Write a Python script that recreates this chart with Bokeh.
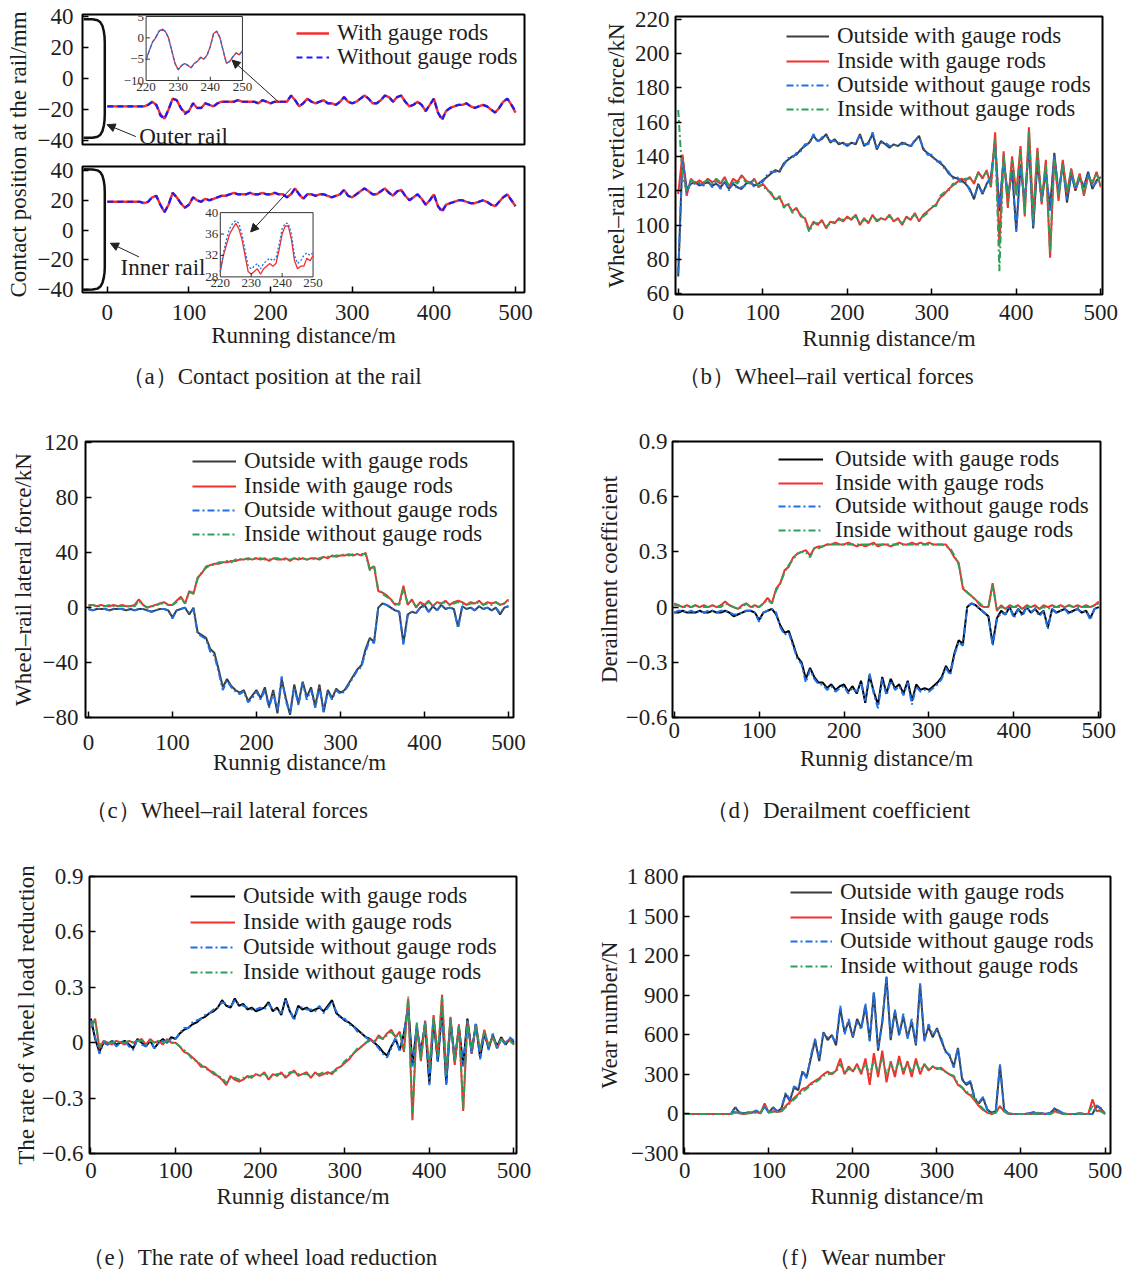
from math import pi
from bokeh.plotting import figure
from bokeh.layouts import row, column
from bokeh.models import (Range1d, FixedTicker, Legend, LegendItem, Label, Arrow,
                          NormalHead)
from bokeh.core.properties import value
from bokeh.embed import file_html
from bokeh.resources import INLINE

FONT = "Liberation Serif"
TXT = "#1e1e1e"
RED = "#f2302c"
BLUE = "#1f6fe5"
GREEN = "#2e9f5b"
DARK = "#3c3c3c"
DD = "7 3 2 3"

# ---------------- data ----------------
dist = list(range(0, 501, 5))
inset_dist = list(range(220, 251))

# (a) contact position, outer rail
a_outer_with = [-18,-18,-18,-18,-18,-18,-18,-18,-18,-18,
                -17,-15,-17,-23,-26,-20,-13,-14,-19,-22,
                -21,-16,-19,-19,-16,-17,-18,-16,-15,-15,
                -15,-15,-14,-15,-15,-15,-15,-16,-14,-15,
                -16,-15,-15,-15,-15,-11,-14,-18,-16,-13,
                -15,-16,-15,-14,-16,-16,-17,-15,-12,-15,
                -16,-15,-13,-11,-13,-16,-16,-14,-11,-12,
                -15,-12,-11,-15,-18,-17,-15,-17,-21,-17,
                -13,-22,-26,-21,-19,-18,-17,-17,-16,-18,
                -19,-18,-17,-18,-20,-22,-19,-15,-13,-17,
                -22]
a_outer_without = [-18,-18,-18,-18,-18,-18,-18,-18,-18,-18,
                   -17,-15,-17,-24,-26,-20,-13,-14,-19,-23,
                   -21,-16,-19,-19,-16,-17,-18,-16,-15,-15,
                   -15,-15,-14,-15,-15,-15,-15,-16,-14,-15,
                   -16,-15,-15,-15,-15,-11,-14,-18,-16,-13,
                   -15,-16,-15,-14,-16,-16,-17,-15,-12,-15,
                   -16,-15,-13,-11,-13,-16,-16,-14,-11,-12,
                   -15,-12,-11,-15,-18,-17,-15,-17,-21,-17,
                   -13,-22,-27,-21,-19,-18,-17,-17,-16,-18,
                   -19,-18,-17,-18,-20,-22,-19,-15,-13,-17,
                   -21]
# (a) contact position, inner rail
a_inner_with = [19,19,19,19,19,19,19,19,19,18,
                19,22,23,17,12,17,25,22,18,15,
                17,22,20,19,21,20,21,22,23,23,
                24,25,24,24,24,25,24,24,25,24,
                24,25,24,24,22,24,28,24,21,24,
                24,23,24,24,23,22,23,24,27,23,
                22,24,26,28,26,24,24,26,28,25,
                23,26,27,23,20,22,24,21,17,20,
                24,16,13,17,18,19,20,20,19,18,
                18,19,20,19,17,16,19,22,24,20,
                16]
a_inner_without = [19,19,19,19,19,19,19,19,19,18,
                   19,22,23,17,12,17,25,22,18,15,
                   17,22,20,19,21,20,21,22,23,23,
                   24,25,24,24,24,25,24,24,25,24,
                   24,25,24,24,22,24,28,24,21,24,
                   24,23,24,24,23,22,23,24,27,23,
                   22,24,26,28,26,24,24,26,28,25,
                   23,26,27,23,20,22,24,21,17,20,
                   24,16,12,17,18,19,20,20,19,18,
                   18,19,20,19,17,16,19,22,24,20,
                   16]
# (a) insets, 220-250 m
a_outer_inset_with = [-5,-3,-1,0,1.5,2,1.5,0,-3,-6,-7.5,-6.5,-6,-6.5,-7,-6,-5.5,-4.5,-5,-4,
                      -2,1,1.5,0,-3,-6,-5.5,-4.5,-3.5,-4,-3]
a_outer_inset_without = [-5.2,-3,-1,0.2,1.6,2.1,1.5,-0.1,-3.1,-6,-7.4,-6.6,-6,-6.4,-7,-6.1,-5.4,-4.6,-5,-4.1,
                         -2,0.9,1.6,0.1,-3,-5.9,-5.6,-4.4,-3.6,-3.9,-3.2]
a_inner_inset_with = [29,32,34,36,37,38,37,35,32,29,28.5,29,29.5,28.5,29.5,30,30.5,30,30.5,33,
                      36,37.5,37.5,35,31,29.5,30,30,31.5,31,32]
a_inner_inset_without = [29,32.5,35,37,38,38.5,38,36,33,30,29.5,30,30.5,29.5,30.5,31,31.5,31,31.5,34,
                         37,38,38,36,32,30.5,31,32,32.5,32,32.5]
# rail profile sketch (bracket) drawn left of the axis
rail_x = [-29,-18,-12,-8.5,-6,-4.3,-3.4,-3.1,-3.1,-3.4,-4.3,-6,-8.5,-12,-18,-29]
outer_rail_y = [38.3,38.2,37.6,36.3,34,30.5,27,23,-23,-27,-30.5,-34,-36.3,-37.6,-38.2,-38.3]
inner_rail_y = [40.8,40.7,40.1,38.8,36.5,33,29.5,25.5,-25,-28.5,-32,-35.5,-38,-39.4,-40,-40.2]

# (b) wheel-rail vertical force (kN)
b_out_with = [70,140,121,124,125,123,124,125,123,124,
              122,125,121,124,122,121,124,125,123,124,
              126,128,130,132,131,136,138,140,141,144,
              146,148,152,149,150,153,148,150,147,148,
              146,148,147,153,146,148,153,144,149,147,
              145,147,146,148,147,146,149,152,144,142,
              140,138,136,134,130,128,127,126,124,121,
              115,124,118,124,128,148,108,139,116,132,
              97,135,112,148,98,137,115,130,110,142,
              118,136,113,130,120,128,122,131,121,126,
              128]
b_in_with = [118,141,117,127,124,126,124,127,125,126,
             124,128,122,127,125,129,126,124,127,122,
             124,121,118,115,116,111,112,108,110,105,
             104,97,102,100,103,98,102,101,104,102,
             105,103,106,100,104,101,106,102,104,103,
             106,102,104,100,105,103,107,102,106,108,
             110,112,116,118,121,123,125,127,126,128,
             124,131,127,132,122,154,88,143,110,140,
             118,146,105,157,104,145,112,138,81,140,
             114,138,118,133,121,130,117,129,124,131,
             122]
b_out_without = [72,138,119,125,124,124,123,126,122,125,
                 121,126,120,125,121,122,123,126,122,125,
                 125,129,131,131,132,135,139,139,142,143,
                 147,147,153,148,151,152,149,149,148,147,
                 147,147,148,152,147,147,154,145,148,148,
                 146,146,147,147,148,145,150,151,145,141,
                 141,137,137,133,131,127,128,125,125,120,
                 116,123,119,123,129,146,110,137,118,130,
                 96,134,114,146,99,139,113,132,108,140,
                 120,134,115,129,121,127,123,130,122,125,
                 129]
b_in_without = [167,128,120,126,125,125,125,126,124,127,
                125,127,123,126,124,128,125,125,126,123,
                123,120,119,114,117,110,113,107,109,106,
                103,96,101,101,102,99,101,102,103,103,
                104,104,105,101,103,102,105,103,103,104,
                105,103,103,101,104,104,106,103,105,107,
                111,111,117,119,120,124,124,126,127,127,
                125,130,128,131,123,150,73,141,112,138,
                117,144,107,155,103,143,114,136,84,138,
                116,136,119,132,122,129,118,128,125,130,
                123]

# (c) wheel-rail lateral force (kN)
c_out_with = [-1,-2,-1,-1,-1,-2,-1,-1,-1,-2,
              -1,-2,-1,-1,-2,-3,-2,-1,-1,-2,
              -7,-2,-1,0,-5,0,-18,-20,-22,-30,
              -33,-45,-58,-52,-57,-60,-62,-60,-68,-64,
              -60,-66,-58,-72,-60,-77,-52,-66,-78,-56,
              -70,-54,-65,-58,-72,-56,-76,-60,-66,-59,
              -62,-60,-55,-50,-45,-42,-30,-22,-25,0,
              3,2,0,-2,-3,-26,-5,-3,-4,0,
              2,-3,1,-2,2,-1,0,-1,-14,1,
              -1,0,-2,1,-1,0,-2,0,-5,0,
              1]
c_in_with = [2,2,1,2,1,1,2,1,2,1,
             1,2,6,2,0,1,2,3,4,2,
             2,5,8,3,12,10,22,25,30,31,
             32,32,33,33,34,34,35,35,36,35,
             36,35,36,34,36,35,35,36,34,36,
             35,36,35,36,36,35,37,36,38,37,
             38,38,39,38,39,38,40,28,30,12,
             11,9,6,2,3,16,2,6,0,4,
             2,5,1,4,3,5,2,4,5,4,
             2,4,3,5,2,4,3,4,2,3,
             6]
c_out_without = [-1,-2,-1,-1,-1,-2,-1,-1,-1,-2,
                 -1,-2,-1,-1,-2,-3,-2,-1,-1,-2,
                 -8,-2,-1,0,-4,-1,-19,-21,-23,-32,
                 -35,-47,-60,-53,-58,-61,-63,-61,-69,-66,
                 -61,-67,-60,-73,-62,-75,-50,-68,-77,-58,
                 -71,-55,-67,-60,-73,-58,-76,-61,-67,-60,
                 -63,-61,-56,-51,-46,-43,-32,-23,-26,0,
                 3,2,0,-2,-3,-27,-6,-3,-4,0,
                 1,-3,1,-2,2,-1,0,-1,-15,1,
                 -1,0,-2,1,-1,0,-2,0,-4,0,
                 1]
c_in_without = [1,2,1,1,1,2,1,1,1,1,
                1,1,5,2,0,1,1,3,3,2,
                2,4,7,3,11,11,21,26,29,31,
                31,33,33,34,33,35,35,36,35,36,
                36,36,35,35,36,36,35,35,35,36,
                36,36,35,36,35,36,37,37,37,38,
                38,39,38,39,39,39,39,27,31,13,
                10,8,6,3,2,14,3,5,1,3,
                2,4,2,3,3,4,2,3,4,3,
                2,3,3,4,2,3,2,4,2,3,
                5]

# (d) derailment coefficient
d_out_with = [-0.03,-0.03,-0.02,-0.03,-0.03,-0.03,-0.02,-0.03,-0.03,-0.02,
              -0.03,-0.03,-0.02,-0.03,-0.05,-0.04,-0.03,-0.02,-0.02,-0.03,
              -0.07,-0.03,-0.02,-0.01,-0.04,-0.1,-0.14,-0.13,-0.2,-0.27,
              -0.3,-0.39,-0.33,-0.38,-0.41,-0.41,-0.44,-0.42,-0.45,-0.43,
              -0.42,-0.46,-0.43,-0.47,-0.4,-0.52,-0.37,-0.46,-0.53,-0.38,
              -0.47,-0.39,-0.44,-0.42,-0.47,-0.4,-0.51,-0.42,-0.45,-0.44,
              -0.45,-0.43,-0.41,-0.38,-0.32,-0.36,-0.25,-0.18,-0.2,0.0,
              0.02,0.01,-0.01,-0.03,-0.05,-0.2,-0.06,-0.02,-0.04,0.0,
              -0.05,-0.01,-0.04,0.0,-0.03,-0.01,-0.04,-0.02,-0.11,-0.01,
              -0.03,-0.02,-0.01,-0.03,-0.02,-0.01,-0.03,-0.02,-0.06,-0.01,
              0.0]
d_in_with = [0.02,0.01,0.0,0.01,0.0,0.01,0.0,0.01,0.0,0.01,
             0.0,0.01,0.03,0.01,0.0,-0.01,0.01,0.02,0.0,0.01,
             0.0,0.02,0.05,0.02,0.1,0.13,0.2,0.22,0.27,0.29,
             0.3,0.31,0.28,0.32,0.33,0.33,0.34,0.34,0.35,0.34,
             0.34,0.35,0.34,0.33,0.34,0.33,0.34,0.35,0.33,0.34,
             0.34,0.33,0.34,0.35,0.34,0.34,0.35,0.34,0.35,0.34,
             0.35,0.34,0.34,0.34,0.34,0.31,0.27,0.24,0.1,0.08,
             0.06,0.04,0.01,0.0,0.0,0.13,-0.02,0.01,-0.01,0.01,
             0.0,0.01,-0.01,0.01,0.0,0.01,-0.01,0.01,0.0,0.01,
             0.0,0.01,0.0,0.01,0.0,0.01,0.0,0.01,0.0,0.01,
             0.03]
d_out_without = [-0.03,-0.02,-0.02,-0.03,-0.02,-0.03,-0.02,-0.03,-0.02,-0.02,
                 -0.03,-0.02,-0.02,-0.03,-0.04,-0.04,-0.03,-0.02,-0.02,-0.03,
                 -0.08,-0.03,-0.02,-0.01,-0.03,-0.11,-0.15,-0.14,-0.21,-0.28,
                 -0.31,-0.41,-0.34,-0.39,-0.42,-0.42,-0.45,-0.43,-0.46,-0.44,
                 -0.43,-0.47,-0.44,-0.46,-0.41,-0.51,-0.36,-0.47,-0.55,-0.39,
                 -0.48,-0.4,-0.45,-0.43,-0.48,-0.41,-0.53,-0.43,-0.46,-0.45,
                 -0.46,-0.44,-0.42,-0.39,-0.33,-0.37,-0.26,-0.19,-0.21,0.0,
                 0.02,0.01,-0.01,-0.03,-0.05,-0.21,-0.07,-0.03,-0.04,0.0,
                 -0.06,-0.01,-0.05,0.0,-0.03,-0.01,-0.05,-0.02,-0.12,-0.01,
                 -0.03,-0.02,-0.01,-0.04,-0.02,-0.01,-0.03,-0.02,-0.07,-0.01,
                 0.0]
d_in_without = [0.01,0.01,0.0,0.0,0.0,0.01,0.0,0.0,0.0,0.01,
                0.0,0.0,0.02,0.01,0.0,-0.01,0.0,0.02,0.0,0.0,
                0.0,0.02,0.04,0.02,0.09,0.13,0.19,0.23,0.26,0.29,
                0.3,0.3,0.27,0.32,0.32,0.33,0.34,0.34,0.34,0.34,
                0.34,0.34,0.34,0.34,0.34,0.34,0.34,0.34,0.34,0.34,
                0.34,0.34,0.34,0.34,0.34,0.34,0.34,0.34,0.34,0.34,
                0.34,0.34,0.34,0.34,0.33,0.32,0.28,0.23,0.11,0.08,
                0.06,0.04,0.02,0.0,0.0,0.12,-0.01,0.0,-0.01,0.0,
                0.0,0.0,-0.01,0.0,0.0,0.0,-0.01,0.0,-0.01,0.0,
                0.0,0.0,0.0,0.01,0.0,0.0,0.0,0.0,0.0,0.01,
                0.02]

# (e) rate of wheel load reduction
e_out_with = [0.13,0.02,-0.05,0.0,-0.01,0.01,-0.01,0.0,0.01,-0.01,
              -0.03,0.02,0.0,-0.02,0.01,-0.03,0.0,0.02,0.0,0.03,
              0.02,0.05,0.07,0.08,0.1,0.11,0.13,0.14,0.16,0.17,
              0.19,0.23,0.2,0.19,0.24,0.2,0.21,0.18,0.19,0.17,
              0.18,0.19,0.22,0.17,0.19,0.15,0.24,0.17,0.13,0.2,
              0.18,0.19,0.17,0.18,0.19,0.17,0.2,0.23,0.16,0.14,
              0.12,0.11,0.09,0.07,0.05,0.03,0.02,0.0,-0.02,-0.05,
              -0.07,-0.02,0.02,-0.04,0.05,0.2,-0.12,0.08,-0.05,0.1,
              -0.22,0.12,-0.1,0.18,-0.22,0.12,-0.1,0.08,-0.12,0.13,
              -0.05,0.1,-0.08,0.05,-0.03,0.04,-0.02,0.03,-0.01,0.02,
              0.0]
e_in_with = [0.08,0.13,-0.03,0.01,0.0,-0.01,0.01,0.0,-0.01,0.01,
             0.0,0.01,0.02,-0.01,0.02,0.0,0.01,-0.01,0.02,0.0,
             0.0,-0.02,-0.05,-0.06,-0.08,-0.1,-0.13,-0.13,-0.15,-0.17,
             -0.18,-0.2,-0.23,-0.18,-0.2,-0.21,-0.2,-0.18,-0.19,-0.17,
             -0.18,-0.16,-0.2,-0.17,-0.18,-0.16,-0.19,-0.17,-0.15,-0.18,
             -0.17,-0.16,-0.19,-0.16,-0.18,-0.17,-0.16,-0.17,-0.14,-0.13,
             -0.11,-0.09,-0.06,-0.04,-0.02,0.0,0.02,0.0,0.04,0.02,
             0.05,0.07,0.03,0.06,-0.05,0.24,-0.42,0.1,-0.1,0.12,
             -0.15,0.15,-0.08,0.26,-0.18,0.14,-0.12,0.1,-0.37,0.12,
             -0.06,0.1,-0.05,0.07,-0.02,0.03,-0.03,0.02,0.0,0.02,
             -0.01]
e_out_without = [0.12,0.03,-0.06,0.0,-0.01,0.01,-0.02,0.0,0.01,-0.02,
                 -0.04,0.02,-0.01,-0.02,0.01,-0.03,0.0,0.01,0.0,0.02,
                 0.02,0.05,0.08,0.08,0.11,0.12,0.13,0.15,0.16,0.18,
                 0.19,0.22,0.21,0.19,0.23,0.21,0.2,0.19,0.18,0.18,
                 0.19,0.18,0.21,0.18,0.18,0.16,0.23,0.18,0.12,0.19,
                 0.19,0.18,0.18,0.17,0.2,0.16,0.19,0.22,0.17,0.13,
                 0.13,0.1,0.09,0.06,0.05,0.03,0.01,0.0,-0.03,-0.06,
                 -0.08,-0.03,0.03,-0.05,0.06,0.18,-0.13,0.09,-0.06,0.11,
                 -0.23,0.13,-0.11,0.17,-0.23,0.13,-0.09,0.09,-0.13,0.12,
                 -0.06,0.11,-0.09,0.06,-0.04,0.05,-0.03,0.02,-0.01,0.03,
                 0.01]
e_in_without = [0.09,0.12,-0.02,0.01,0.0,0.0,0.01,0.0,0.0,0.01,
                0.0,0.01,0.01,-0.01,0.01,0.0,0.01,0.0,0.01,0.0,
                0.0,-0.02,-0.04,-0.06,-0.09,-0.1,-0.12,-0.14,-0.15,-0.16,
                -0.18,-0.19,-0.22,-0.19,-0.19,-0.2,-0.19,-0.19,-0.18,-0.18,
                -0.17,-0.17,-0.19,-0.18,-0.17,-0.17,-0.18,-0.16,-0.16,-0.17,
                -0.17,-0.17,-0.18,-0.17,-0.17,-0.16,-0.17,-0.16,-0.15,-0.13,
                -0.1,-0.08,-0.06,-0.03,-0.02,0.0,0.01,0.01,0.03,0.02,
                0.04,0.06,0.03,0.05,-0.04,0.25,-0.4,0.11,-0.09,0.11,
                -0.14,0.14,-0.07,0.25,-0.17,0.13,-0.11,0.09,-0.36,0.11,
                -0.05,0.09,-0.04,0.06,-0.02,0.03,-0.02,0.02,0.0,0.01,
                -0.01]

# (f) wear number (N)
f_out_with = [0,0,0,0,0,0,0,0,0,0,
              0,0,50,10,5,10,10,25,5,60,
              10,50,20,40,150,100,200,180,320,280,
              420,560,400,620,560,600,520,800,620,700,
              580,720,650,820,560,920,480,700,1040,560,
              780,600,740,580,700,520,980,560,660,580,
              650,560,480,440,360,500,260,220,240,110,
              80,120,30,10,20,370,30,5,0,0,
              0,0,5,10,0,5,0,10,40,20,
              5,0,0,0,5,0,0,0,60,40,
              0]
f_in_with = [0,0,0,0,0,0,0,0,0,0,
             0,0,15,5,0,5,10,15,5,80,
             10,20,15,20,60,90,120,150,190,200,
             230,250,270,300,320,300,330,420,300,360,
             320,380,300,420,220,460,280,480,240,400,
             280,440,300,400,280,420,300,380,330,360,
             340,350,320,300,280,220,200,160,140,100,
             60,30,10,0,10,60,20,0,0,0,
             0,0,0,0,10,0,0,0,20,10,
             0,0,0,0,0,0,0,110,20,30,
             0]
f_out_without = [0,0,0,0,0,0,0,0,0,0,
                 0,0,55,10,5,10,10,25,5,55,
                 10,45,20,45,160,110,210,190,330,270,
                 440,570,410,610,580,590,540,820,600,720,
                 590,700,640,840,550,930,500,690,1040,580,
                 790,590,760,570,720,530,990,550,680,600,
                 640,580,470,450,350,500,270,230,250,120,
                 90,130,35,10,20,375,35,5,0,0,
                 0,0,5,15,0,5,0,10,45,25,
                 5,0,0,0,5,0,0,0,65,45,
                 0]
f_in_without = [0,0,0,0,0,0,0,0,0,0,
                0,0,10,5,0,5,5,10,5,60,
                10,15,15,20,50,80,110,140,170,190,
                220,240,260,290,300,310,320,380,310,340,
                330,360,320,380,300,400,320,420,300,380,
                320,400,330,380,320,390,330,370,340,360,
                350,340,320,300,290,230,200,170,150,110,
                70,40,10,0,10,50,20,0,0,0,
                0,0,0,0,5,0,0,0,15,10,
                0,0,0,0,0,0,0,60,20,20,
                0]

x_ticks = [0, 100, 200, 300, 400, 500]
a_yticks = [-40, -20, 0, 20, 40]
a_ylabels = {-40: "\u221240", -20: "\u221220", 0: "0", 20: "20", 40: "40"}
b_yticks = [60, 80, 100, 120, 140, 160, 180, 200, 220]
c_yticks = [-80, -40, 0, 40, 80, 120]
c_ylabels = {-80: "\u221280", -40: "\u221240", 0: "0", 40: "40", 80: "80", 120: "120"}
de_yticks = [-0.6, -0.3, 0, 0.3, 0.6, 0.9]
de_ylabels = {-0.6: "\u22120.6", -0.3: "\u22120.3", 0: "0", 0.3: "0.3", 0.6: "0.6", 0.9: "0.9"}
f_yticks = [-300, 0, 300, 600, 900, 1200, 1500, 1800]
f_ylabels = {-300: "\u2212300", 0: "0", 300: "300", 600: "600", 900: "900",
             1200: "1 200", 1500: "1 500", 1800: "1 800"}
legend_labels = ["Outside with gauge rods", "Inside with gauge rods",
                 "Outside without gauge rods", "Inside without gauge rods"]
captions = ["\uff08a\uff09Contact position at the rail",
            "\uff08b\uff09Wheel\u2013rail vertical forces",
            "\uff08c\uff09Wheel\u2013rail lateral forces",
            "\uff08d\uff09Derailment coefficient",
            "\uff08e\uff09The rate of wheel load reduction",
            "\uff08f\uff09Wear number"]


# ---------------- helpers ----------------
def make_fig(w, h, xr, yr, l, r, t, b, x_axis=True):
    kw = {}
    if not x_axis:
        kw["x_axis_location"] = None
    p = figure(width=w, height=h, x_range=Range1d(*xr), y_range=Range1d(*yr),
               output_backend="svg", toolbar_location=None,
               min_border_left=l, min_border_right=r, min_border_top=t, min_border_bottom=b,
               background_fill_color="white", border_fill_color="white", **kw)
    p.grid.visible = False
    p.outline_line_color = "black"
    p.outline_line_width = 2
    p.outline_line_alpha = 1
    return p


def blank_fig(w, h):
    s = figure(width=w, height=h, x_range=Range1d(0, 1), y_range=Range1d(0, 1),
               output_backend="svg", toolbar_location=None, min_border=0,
               x_axis_location=None, y_axis_location=None,
               background_fill_color="white", border_fill_color="white")
    s.grid.visible = False
    s.outline_line_color = None
    return s


def style_axis(ax, ticks, overrides=None, label=None, standoff=7, label_standoff=2):
    ax.ticker = FixedTicker(ticks=ticks)
    if overrides:
        ax.major_label_overrides = overrides
    ax.major_tick_in = 6
    ax.major_tick_out = 0
    ax.major_tick_line_color = "black"
    ax.major_tick_line_width = 1.5
    ax.minor_tick_line_color = None
    ax.axis_line_color = None
    ax.major_label_text_font = FONT
    ax.major_label_text_font_size = "23px"
    ax.major_label_text_color = TXT
    ax.major_label_standoff = standoff
    if label:
        ax.axis_label = label
        ax.axis_label_text_font = FONT
        ax.axis_label_text_font_size = "23px"
        ax.axis_label_text_font_style = "normal"
        ax.axis_label_text_color = TXT
        ax.axis_label_standoff = label_standoff


def add_legend(p, renderers, labels, x, ys, gw, standoff=8):
    # one legend per row so that the row pitch matches the reference
    for lb, r, y in zip(labels, renderers, ys):
        leg = Legend(items=[LegendItem(label=lb, renderers=[r])], location=(x, y),
                     border_line_color=None, background_fill_alpha=0,
                     label_text_font=FONT, label_text_font_size="23px",
                     label_text_color=TXT, glyph_width=gw, glyph_height=24,
                     label_height=24, label_standoff=standoff, spacing=0,
                     padding=0, margin=0)
        p.add_layout(leg)


def caption_strip(h, y, entries):
    s = blank_fig(1131, h)
    for x, text in entries:
        s.add_layout(Label(x=x, y=y, x_units="screen", y_units="screen", text=text,
                           text_font=FONT, text_font_size="23px", text_color=TXT,
                           text_align="left", text_baseline="middle"))
    return s


def draw4(p, ow, iw, ob, ib, out_color):
    r1 = p.line(dist, ow, line_color=out_color, line_width=2.0)
    r2 = p.line(dist, iw, line_color=RED, line_width=2.0)
    r3 = p.line(dist, ob, line_color=BLUE, line_width=2.0, line_dash=DD)
    r4 = p.line(dist, ib, line_color=GREEN, line_width=2.0, line_dash=DD)
    return [r1, r2, r3, r4]


def inset(p, xs, ys, xt, yt, with_vals, without_vals, yticks, ylabs, dash):
    sub = p.subplot(x_source=Range1d(*xs), y_source=Range1d(*ys),
                    x_target=Range1d(*xt), y_target=Range1d(*yt))
    sub.quad(left=[xs[0]], right=[xs[1]], bottom=[ys[0]], top=[ys[1]],
             fill_color="white", line_color="#333333", line_width=1)
    sub.line(inset_dist, with_vals, line_color=RED, line_width=1.3)
    sub.line(inset_dist, without_vals, line_color=BLUE, line_width=1.3, line_dash=dash)
    xt_vals = [220, 230, 240, 250]
    dy = (ys[1] - ys[0]) * 0.06
    dx = (xs[1] - xs[0]) * 0.04
    sub.segment(x0=xt_vals[1:3], y0=[ys[0]] * 2, x1=xt_vals[1:3], y1=[ys[0] + dy] * 2,
                line_color="#333333", line_width=1)
    sub.segment(x0=[xs[0]] * (len(yticks) - 2), y0=yticks[1:-1],
                x1=[xs[0] + dx] * (len(yticks) - 2), y1=yticks[1:-1],
                line_color="#333333", line_width=1)
    sub.text(x=xt_vals, y=[ys[0]] * 4, text=[str(v) for v in xt_vals],
             text_align="center", text_baseline="top", y_offset=2,
             text_font=value(FONT), text_font_size=value("13px"), text_color="#333333")
    sub.text(x=[xs[0]] * len(yticks), y=yticks, text=ylabs,
             text_align="right", text_baseline="middle", x_offset=-2,
             text_font=value(FONT), text_font_size=value("13px"), text_color="#333333")


def text_label(p, x, y, text):
    p.add_layout(Label(x=x, y=y, text=text, text_font=FONT, text_font_size="23px",
                       text_color=TXT, text_baseline="middle", text_align="left"))


def arrow(p, x0, y0, x1, y1):
    p.add_layout(Arrow(end=NormalHead(size=8, fill_color="#222222", line_color="#222222"),
                       x_start=x0, y_start=y0, x_end=x1, y_end=y1,
                       line_color="#222222", line_width=1))


# ---------------- (a) ----------------
a_xr = (-30.4, 511)
a_label = blank_fig(34, 360)
a_label.add_layout(Label(x=18, y=206, x_units="screen", y_units="screen",
                         text="Contact position at the rail/mm", angle=pi / 2,
                         text_align="center", text_baseline="middle",
                         text_font=FONT, text_font_size="23px", text_color=TXT))

a_top = make_fig(549, 155, a_xr, (-42.6, 41.3), 45, 59, 14, 11, x_axis=False)
style_axis(a_top.yaxis[0], a_yticks, a_ylabels, standoff=9)
ra1 = a_top.line(dist, a_outer_with, line_color=RED, line_width=2.4)
ra2 = a_top.line(dist, a_outer_without, line_color="#1a1aff", line_width=2.2, line_dash="6 4")
a_top.line(rail_x, outer_rail_y, line_color="#111111", line_width=2.5)
inset(a_top, (220, 250), (-10, 5), (47.5, 165.5), (-1.3, 40),
      a_outer_inset_with, a_outer_inset_without, [-10, -5, 0, 5],
      ["\u221210", "\u22125", "0", "5"], "4 2")
add_legend(a_top, [ra1, ra2], ["With gauge rods", "Without gauge rods"], 214, [98, 74], 33)
text_label(a_top, 39, -37.5, "Outer rail")
arrow(a_top, 35, -37.5, -0.3, -29.8)
arrow(a_top, 210.5, -15.5, 152.8, 11.9)

a_bot = make_fig(549, 205, a_xr, (-42, 42.7), 45, 59, 11, 68)
style_axis(a_bot.yaxis[0], a_yticks, a_ylabels, standoff=9)
style_axis(a_bot.xaxis[0], x_ticks, label="Running distance/m", standoff=12, label_standoff=0)
a_bot.line(dist, a_inner_with, line_color=RED, line_width=2.4)
a_bot.line(dist, a_inner_without, line_color="#1a1aff", line_width=2.2, line_dash="6 4")
a_bot.line(rail_x, inner_rail_y, line_color="#111111", line_width=2.5)
inset(a_bot, (220, 250), (28, 40), (138.4, 252), (-31.5, 11.7),
      a_inner_inset_with, a_inner_inset_without, [28, 32, 36, 40],
      ["28", "32", "36", "40"], "2 2")
text_label(a_bot, 16.2, -25.3, "Inner rail")
arrow(a_bot, 38.9, -18.1, 3.8, -8.9)
arrow(a_bot, 225, 28, 175.6, -1.3)

# ---------------- (b) ----------------
pb = make_fig(548, 360, (-3.2, 502), (59.5, 221.5), 92, 29, 16, 66)
style_axis(pb.yaxis[0], b_yticks, label="Wheel\u2013rail vertical force/kN", standoff=6, label_standoff=3)
style_axis(pb.xaxis[0], x_ticks, label="Runnig distance/m", standoff=10, label_standoff=3)
rb = draw4(pb, b_out_with, b_in_with, b_out_without, b_in_without, DARK)
add_legend(pb, rb, legend_labels, 111, [245, 220, 196, 172], 43)

# ---------------- (c) ----------------
pc = make_fig(583, 378, (-3.5, 506), (-80, 121), 85, 70, 33, 68)
style_axis(pc.yaxis[0], c_yticks, c_ylabels, label="Wheel\u2013rail lateral force/kN", standoff=7, label_standoff=4)
style_axis(pc.xaxis[0], x_ticks, label="Runnig distance/m", standoff=17, label_standoff=-3)
rc = draw4(pc, c_out_with, c_in_with, c_out_without, c_in_without, DARK)
add_legend(pc, rc, legend_labels, 107, [243, 218, 194, 170], 44)

# ---------------- (d) ----------------
pd_ = make_fig(548, 378, (-2, 502), (-0.6, 0.9), 89, 31, 28, 69)
style_axis(pd_.yaxis[0], de_yticks, de_ylabels, label="Derailment coefficient", standoff=5, label_standoff=1)
style_axis(pd_.xaxis[0], x_ticks, label="Runnig distance/m", standoff=5, label_standoff=5)
rd = draw4(pd_, d_out_with, d_in_with, d_out_without, d_in_without, "#000000")
add_legend(pd_, rd, legend_labels, 106, [245, 221, 198, 174], 45, standoff=12)

# ---------------- (e) ----------------
pe = make_fig(583, 380, (-1.7, 503), (-0.6, 0.9), 89, 67, 36, 67)
style_axis(pe.yaxis[0], de_yticks, de_ylabels, label="The rate of wheel load reduction", standoff=6, label_standoff=0)
style_axis(pe.xaxis[0], x_ticks, label="Runnig distance/m", standoff=9, label_standoff=3)
re_ = draw4(pe, e_out_with, e_in_with, e_out_without, e_in_without, "#000000")
add_legend(pe, re_, legend_labels, 101, [244, 218, 193, 168], 45)

# ---------------- (f) ----------------
pf = make_fig(548, 380, (-1.5, 506.5), (-300, 1800), 100, 21, 36, 67)
style_axis(pf.yaxis[0], f_yticks, f_ylabels, label="Wear number/N", standoff=5, label_standoff=2)
style_axis(pf.xaxis[0], x_ticks, label="Runnig distance/m", standoff=9, label_standoff=3)
rf = draw4(pf, f_out_with, f_in_with, f_out_without, f_in_without, DARK)
add_legend(pf, rf, legend_labels, 107, [248, 223, 199, 174], 42)

# ---------------- captions ----------------
cap1 = caption_strip(48, 32, [(121, captions[0]), (677, captions[1])])
cap2 = caption_strip(54, 30, [(84, captions[2]), (705, captions[3])])
cap3 = caption_strip(52, 15, [(81, captions[4]), (767, captions[5])])

layout = column(
    row(row(a_label, column(a_top, a_bot)), pb),
    cap1,
    row(pc, pd_),
    cap2,
    row(pe, pf),
    cap3,
)

open("out.html", "w").write(file_html(layout, INLINE))
